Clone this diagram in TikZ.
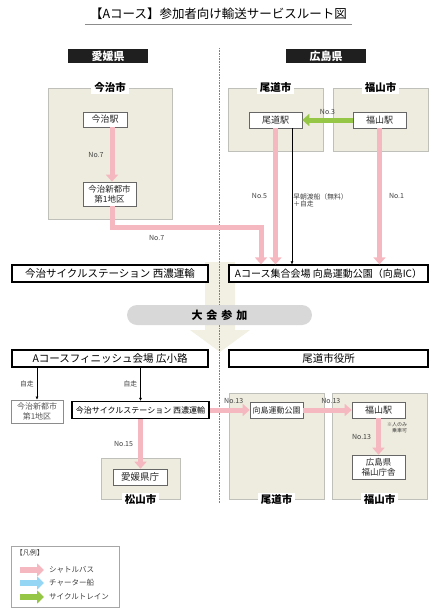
\documentclass[tikz,border=0pt]{standalone}
\usepackage{fontspec}
\setmainfont{Noto Sans CJK JP}
\usepackage{tikz}
\usetikzlibrary{arrows.meta,positioning}
\definecolor{buspink}{RGB}{246,184,192}
\definecolor{shipblue}{RGB}{150,214,245}
\definecolor{traingreen}{RGB}{150,198,70}
\definecolor{areafill}{RGB}{238,236,222}
\definecolor{arealine}{RGB}{192,192,186}
\definecolor{pillgray}{RGB}{216,216,216}
\definecolor{flowbeige}{RGB}{242,240,226}

\begin{document}
\begin{tikzpicture}[x=1pt,y=-1pt,
area/.style={draw=arealine,fill=areafill,line width=.8pt},
arealbl/.style={fill=white,inner xsep=3pt,inner ysep=1pt,font=\fontsize{10.5}{11}\selectfont\bfseries},
stn/.style={draw=black!60,fill=white,line width=.6pt,inner sep=1pt,align=center,text=black!85,font=\fontsize{9}{10.5}\selectfont},
hub/.style={draw=black,fill=white,line width=1.2pt,inner sep=1pt,font=\fontsize{10.5}{11}\selectfont},
pref/.style={fill=black!88,text=white,inner sep=1pt,minimum width=80pt,minimum height=14pt,font=\fontsize{11}{12}\selectfont\bfseries},
pill/.style={fill=pillgray,rounded corners=10pt,inner sep=1pt,font=\fontsize{11}{12}\selectfont\bfseries},
lbl/.style={inner sep=1pt,text=black!75,font=\fontsize{7}{8}\selectfont},
note/.style={inner sep=1pt,text=black!75,align=left,font=\fontsize{6.8}{7.8}\selectfont},
bus/.style={draw=buspink,line width=5pt,-{Triangle[length=7pt,width=12pt]}},
train/.style={draw=traingreen,line width=5pt,-{Triangle[length=7pt,width=12pt]}},
walk/.style={draw=black,line width=.5pt,-{Latex[length=3pt,width=3pt]}},
legarr/.style={line width=6pt,-{Triangle[length=7pt,width=13pt]}}]
\useasboundingbox (0,0) rectangle (436,611);

\node[minimum width=267pt,minimum height=20pt,inner sep=0pt,font=\fontsize{12.5}{13}\selectfont](title) at (218.5,14){【Aコース】参加者向け輸送サービスルート図};
\draw[black!45,line width=1.2pt](title.south west)--(title.south east);

\fill[flowbeige](205,262)--(235,262)--(235,330)--(250,330)--(220,352)--(190,330)--(205,330)--cycle;
\draw[black!50,densely dotted,line width=.6pt](219,48)--(219,503);

\node[pref](ehime) at (108,56){愛媛県};
\node[pref](hiroshima) at (326,56){広島県};

\node[area,minimum width=124pt,minimum height=131pt](imabariA) at (110,153.5){};
\node[area,minimum width=95pt,minimum height=63pt](onomichiA) at (275.5,119.5){};
\node[area,minimum width=95pt,minimum height=63pt](fukuyamaA) at (380.5,119.5){};
\node[arealbl](imabariL) at (imabariA.north){今治市};
\node[arealbl](onomichiL) at (onomichiA.north){尾道市};
\node[arealbl](fukuyamaL) at (fukuyamaA.north){福山市};

\node[stn,minimum width=44pt,minimum height=15pt](imabariSt) at (105,119.5){今治駅};
\node[stn,minimum width=53pt,minimum height=24pt,font=\fontsize{8.5}{10}\selectfont](shintoshi) at (109.5,194){今治新都市\\第1地区};
\node[stn,minimum width=53pt,minimum height=16pt](onomichiSt) at (275.5,120){尾道駅};
\node[stn,minimum width=53pt,minimum height=16pt](fukuyamaSt) at (379.5,120){福山駅};

\node[hub,minimum width=196pt,minimum height=17pt](cycleSt) at (110,273.5){今治サイクルステーション 西濃運輸};
\node[hub,minimum width=199pt,minimum height=17pt,font=\fontsize{10}{11}\selectfont](meetA) at (328.5,273.5){Aコース集合会場 向島運動公園（向島IC）};

\draw[bus]([xshift=7pt]imabariSt.south)--([xshift=2.5pt]shintoshi.north)node[lbl,midway,left=5pt]{No.7};
\coordinate(bend7) at (261,227);
\draw[bus]([xshift=2.5pt]shintoshi.south)|-(bend7)node[lbl,pos=.65,below=5pt]{No.7}--(bend7|-meetA.north);
\draw[train](fukuyamaSt.west)--(onomichiSt.east)node[lbl,midway,above=2pt]{No.3};
\draw[bus](onomichiSt.south)--(onomichiSt.south|-meetA.north)node[lbl,midway,left=5pt]{No.5};
\coordinate(ferry) at ([xshift=16.5pt]onomichiSt.south);
\draw[walk](ferry)--(ferry|-meetA.north)node[note,pos=.53,right=0pt]{早朝渡船（無料）\\＋自走};
\draw[bus](fukuyamaSt.south)--(fukuyamaSt.south|-meetA.north)node[lbl,midway,right=6pt]{No.1};

\node[pill,minimum width=185pt,minimum height=20pt](taikai) at (219.5,315){大\hspace{4pt}会\hspace{4pt}参\hspace{4pt}加};

\node[hub,minimum width=196pt,minimum height=17pt](finish) at (110,358.5){Aコースフィニッシュ会場 広小路};
\node[hub,minimum width=199pt,minimum height=17pt](cityHall) at (328.5,358.5){尾道市役所};

\node[stn,minimum width=52pt,minimum height=23pt,draw=black!45,text=black!65,font=\fontsize{8}{9.5}\selectfont](shintoshi2) at (37,411.5){今治新都市\\第1地区};
\node[hub,minimum width=137pt,minimum height=17pt,font=\fontsize{8}{9}\selectfont](cycleSt2) at (140.5,410){今治サイクルステーション 西濃運輸};
\draw[walk](finish.south-|shintoshi2.north)--(shintoshi2.north)node[note,midway,left=2pt]{自走};
\draw[walk](finish.south-|cycleSt2.north)--(cycleSt2.north)node[note,midway,left=2pt]{自走};

\node[area,minimum width=79pt,minimum height=41pt](matsuyamaA) at (140.5,478.5){};
\node[arealbl](matsuyamaL) at (matsuyamaA.south){松山市};
\node[stn,minimum width=54pt,minimum height=16pt,font=\fontsize{9.5}{10}\selectfont](ehimeOffice) at (140,477){愛媛県庁};
\draw[bus](cycleSt2.south)--(cycleSt2.south|-ehimeOffice.north)node[lbl,midway,left=4pt]{No.15};

\node[area,minimum width=95pt,minimum height=106pt](onomichiB) at (276.5,446){};
\node[area,minimum width=95pt,minimum height=106pt](fukuyamaB) at (379.5,446){};
\node[arealbl](onomichiBL) at (onomichiB.south){尾道市};
\node[arealbl](fukuyamaBL) at (fukuyamaB.south){福山市};
\node[stn,minimum width=53pt,minimum height=16pt,font=\fontsize{8}{9}\selectfont](mukaiPark) at (276.5,410){向島運動公園};
\node[stn,minimum width=53pt,minimum height=16pt](fukuyamaSt2) at (378.5,410){福山駅};
\node[stn,minimum width=53pt,minimum height=24pt,font=\fontsize{8.5}{10}\selectfont](fukuOffice) at (378.5,467){広島県\\福山庁舎};
\draw[bus](cycleSt2.east)--(mukaiPark.west)node[lbl,pos=.6,above=3pt]{No.13};
\draw[bus](mukaiPark.east)--(fukuyamaSt2.west)node[lbl,pos=.57,above=3pt]{No.13};
\draw[bus](fukuyamaSt2.south)--(fukuOffice.north)node[lbl,midway,left=4pt]{No.13}
  node[note,pos=.25,right=5pt,align=right,font=\fontsize{5}{6}\selectfont]{※人のみ\\乗車可};

\node[draw=black!35,line width=.6pt,minimum width=108pt,minimum height=61pt](legend) at (65,576.5){};
\node[lbl,anchor=north west](legT) at ([shift={(4pt,-3pt)}]legend.north west){【凡例】};
\node[lbl,anchor=west,font=\fontsize{7.5}{8}\selectfont](legBus) at (48,570){シャトルバス};
\node[lbl,anchor=west,font=\fontsize{7.5}{8}\selectfont](legShip) at (48,583){チャーター船};
\node[lbl,anchor=west,font=\fontsize{7.5}{8}\selectfont](legTrain) at (48,597){サイクルトレイン};
\draw[legarr,draw=buspink]([xshift=-28pt]legBus.west)--([xshift=-4pt]legBus.west);
\draw[legarr,draw=shipblue]([xshift=-28pt]legShip.west)--([xshift=-4pt]legShip.west);
\draw[legarr,draw=traingreen]([xshift=-28pt]legTrain.west)--([xshift=-4pt]legTrain.west);
\end{tikzpicture}
\end{document}
